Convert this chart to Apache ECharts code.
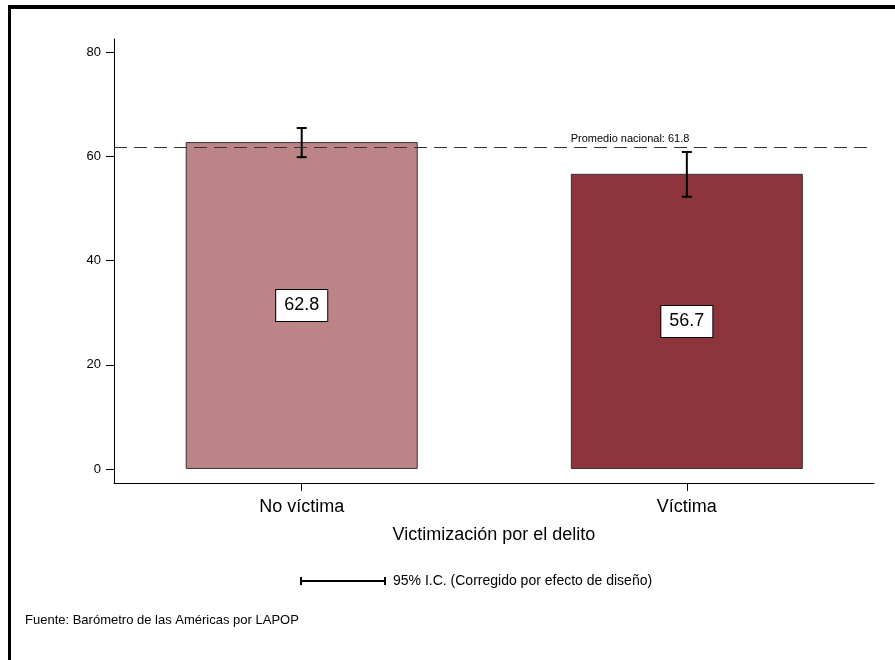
<!DOCTYPE html>
<html>
<head>
<meta charset="utf-8">
<script src="https://cdn.jsdelivr.net/npm/echarts@6/dist/echarts.min.js"></script>
<style>html,body{margin:0;padding:0;background:#fff}#c{width:895px;height:660px}</style>
</head>
<body>
<div id="c"></div>
<script>
const categories = ['No víctima', 'Víctima'];
const means = [62.8, 56.7];
const ciLow = [59.9, 52.3];
const ciHigh = [65.5, 60.9];
const yTicks = [0, 20, 40, 60, 80];
const nationalAvg = 61.8;
const barColors = ['#BC8487', '#8E343C'];

const FONT = 'Liberation Sans, Arial, sans-serif';
const chart = echarts.init(document.getElementById('c'));

const barData = means.map((v, i) => ({
  value: [i + 1, v],
  itemStyle: { color: barColors[i] }
}));
const errData = means.map((v, i) => [i + 1, ciLow[i], ciHigh[i]]);

chart.setOption({
  animation: false,
  backgroundColor: '#fff',
  grid: { left: 114, right: 21, top: 39, bottom: 177 },
  xAxis: {
    type: 'value', min: 0.5126, max: 2.486,
    splitLine: { show: false },
    axisLine: { show: true, onZero: false, lineStyle: { color: '#000', width: 1 } },
    axisTick: { show: true, customValues: [1, 2], length: 8, lineStyle: { color: '#000' } },
    axisLabel: { customValues: [1, 2], formatter: v => categories[Math.round(v) - 1] || '',
      fontFamily: FONT, fontSize: 18, color: '#000', margin: 15 },
    name: 'Victimización por el delito', nameLocation: 'middle', nameGap: 43,
    nameTextStyle: { fontFamily: FONT, fontSize: 18, color: '#000' }
  },
  yAxis: {
    type: 'value', min: -2.7, max: 82.6,
    splitLine: { show: false },
    axisLine: { show: true, onZero: false, lineStyle: { color: '#000', width: 1 } },
    axisTick: { show: true, customValues: yTicks, length: 8, lineStyle: { color: '#000' } },
    axisLabel: { customValues: yTicks, fontFamily: FONT, fontSize: 13, color: '#000', margin: 13 }
  },
  series: [
    {
      type: 'bar', data: barData, barWidth: 232,
      itemStyle: { borderColor: '#333', borderWidth: 1 },
      label: {
        show: true, position: 'inside', formatter: p => p.value[1].toFixed(1),
        fontFamily: FONT, fontSize: 18, color: '#000',
        backgroundColor: '#fff', borderColor: '#000', borderWidth: 1, padding: [7, 8, 6, 8]
      },
      markLine: {
        silent: true, symbol: 'none',
        lineStyle: { type: [13, 7], color: '#333', width: 1 },
        label: { show: false },
        data: [{ yAxis: nationalAvg }]
      },
      markPoint: {
        symbol: 'rect', symbolSize: 0,
        label: {
          show: true, formatter: 'Promedio nacional: ' + nationalAvg,
          position: [0, -8], align: 'left', verticalAlign: 'middle',
          fontFamily: FONT, fontSize: 11, color: '#000'
        },
        data: [{ coord: [1.6985, nationalAvg] }]
      }
    },
    {
      type: 'custom', data: errData,
      renderItem: (params, api) => {
        const x = api.value(0);
        const lo = api.coord([x, api.value(1)]);
        const hi = api.coord([x, api.value(2)]);
        const w = 5;
        const st = { stroke: '#000', lineWidth: 2 };
        return { type: 'group', children: [
          { type: 'line', shape: { x1: lo[0], y1: lo[1], x2: hi[0], y2: hi[1] }, style: st },
          { type: 'line', shape: { x1: lo[0] - w, y1: lo[1], x2: lo[0] + w, y2: lo[1] }, style: st },
          { type: 'line', shape: { x1: hi[0] - w, y1: hi[1], x2: hi[0] + w, y2: hi[1] }, style: st }
        ]};
      },
      z: 5
    }
  ],
  graphic: [
    { type: 'rect', shape: { x: 8, y: 5, width: 887, height: 4 }, style: { fill: '#000' } },
    { type: 'rect', shape: { x: 8, y: 5, width: 3, height: 655 }, style: { fill: '#000' } },
    { type: 'line', shape: { x1: 301, y1: 581, x2: 385, y2: 581 }, style: { stroke: '#000', lineWidth: 2 } },
    { type: 'line', shape: { x1: 301, y1: 577, x2: 301, y2: 585 }, style: { stroke: '#000', lineWidth: 2 } },
    { type: 'line', shape: { x1: 385, y1: 577, x2: 385, y2: 585 }, style: { stroke: '#000', lineWidth: 2 } },
    { type: 'text', x: 393, y: 581, style: { text: '95% I.C. (Corregido por efecto de diseño)',
      font: '14px ' + FONT, fill: '#000', verticalAlign: 'middle' } },
    { type: 'text', x: 25, y: 620, style: { text: 'Fuente: Barómetro de las Américas por LAPOP',
      font: '13px ' + FONT, fill: '#000', verticalAlign: 'middle' } }
  ]
});
</script>
</body>
</html>
